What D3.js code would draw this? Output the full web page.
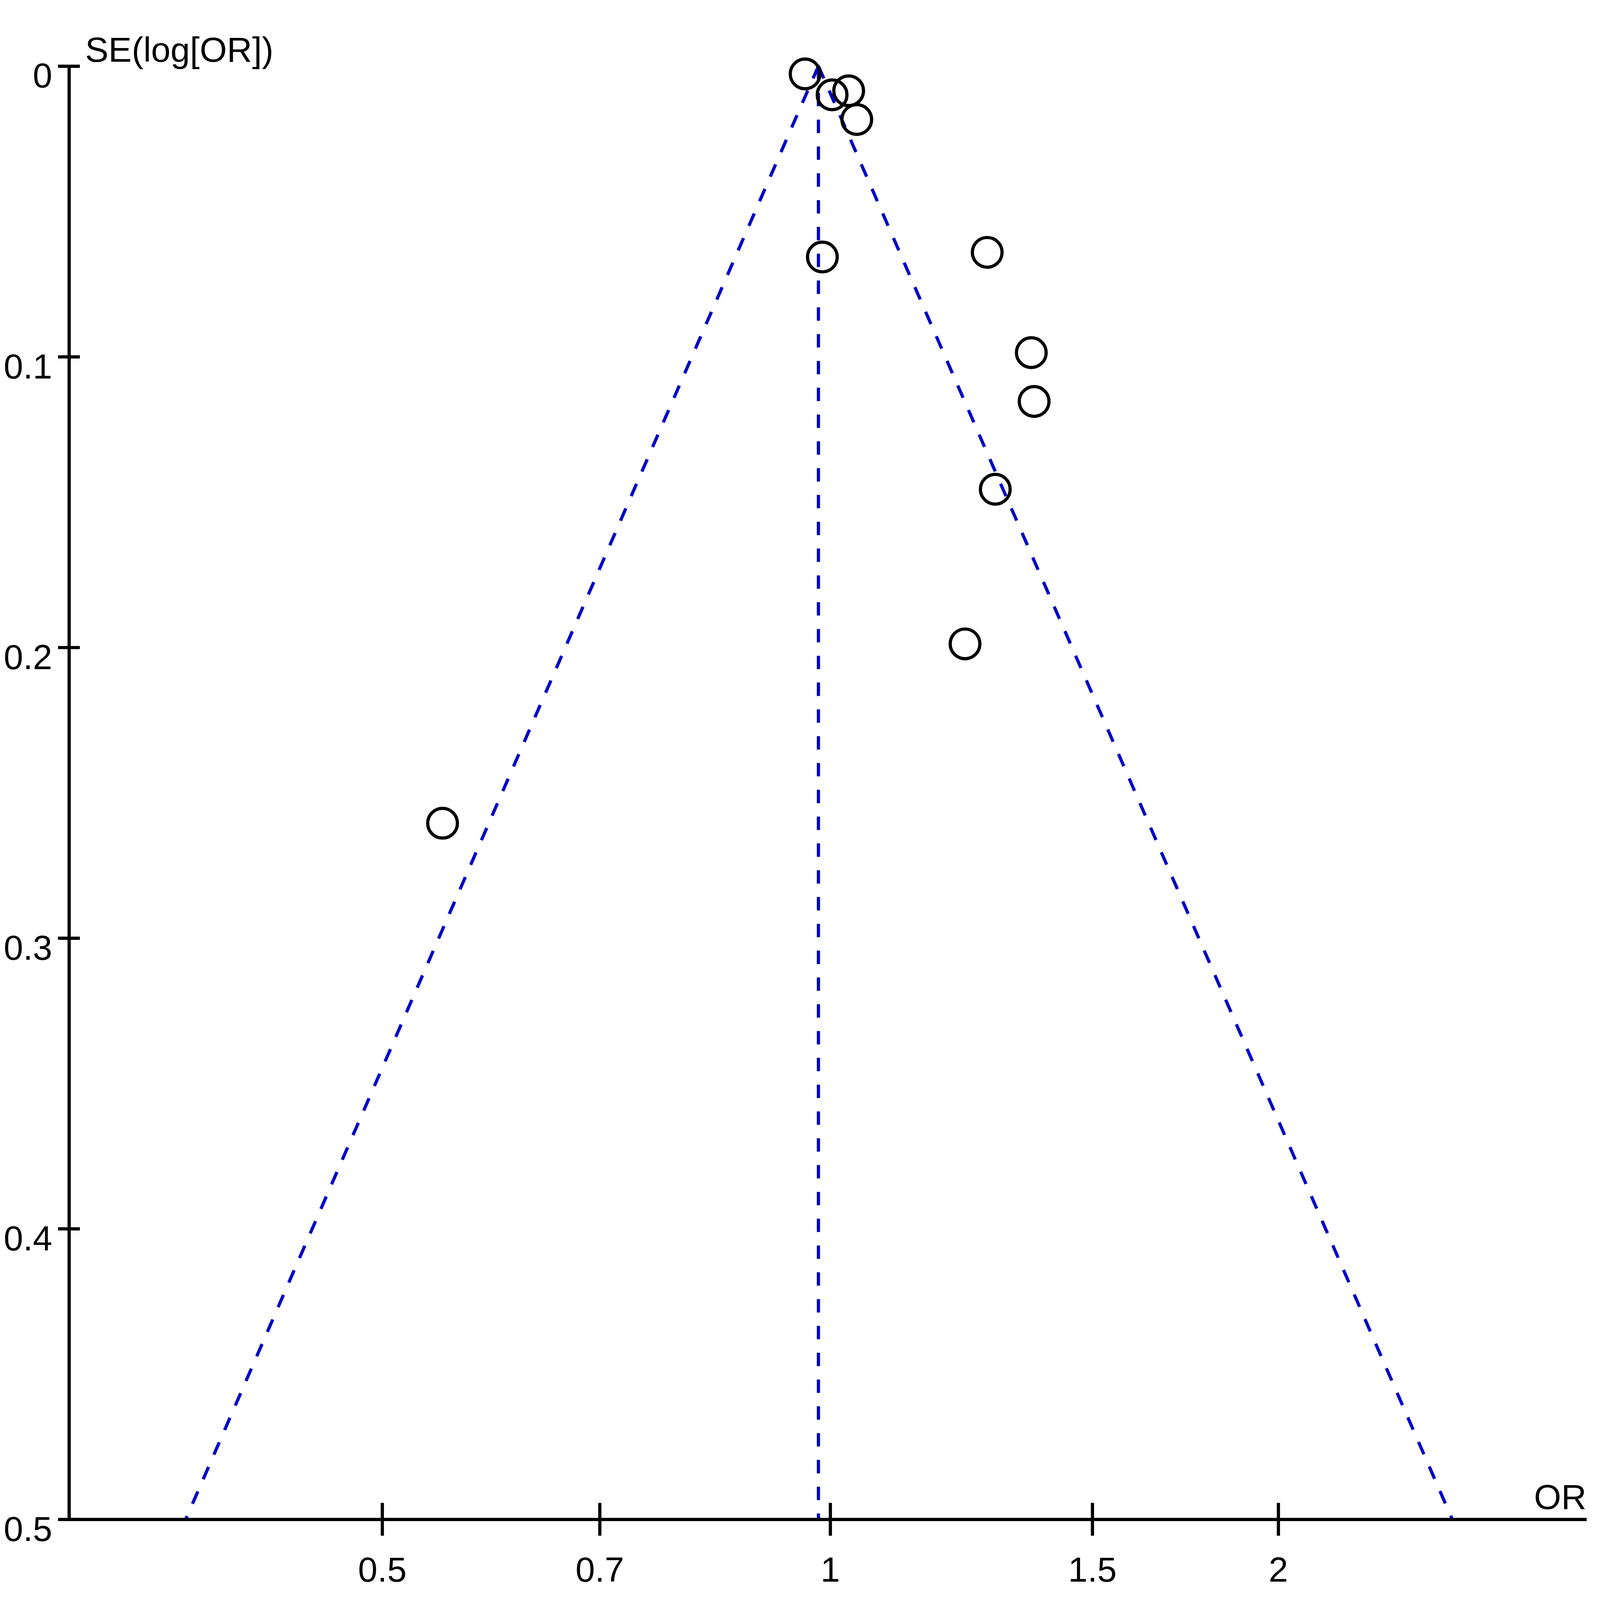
<!DOCTYPE html>
<html>
<head>
<meta charset="utf-8">
<script src="https://cdn.jsdelivr.net/npm/d3@7"></script>
<style>
  html, body { margin: 0; padding: 0; background: #fff; width: 100%; height: 100%; overflow: hidden; }
  #chart { width: 100vw; height: 100vh; }
  svg { display: block; }
</style>
</head>
<body>
<div id="chart"></div>
<script>
// study estimates
const studyOR = [0.962, 1.003, 1.029, 1.042, 0.988, 1.275, 1.365, 1.371, 1.291, 1.232, 0.549];
const studySE = [0.0027, 0.0099, 0.0085, 0.0184, 0.0657, 0.0641, 0.0986, 0.1154, 0.1456, 0.1988, 0.2605];

// pooled estimate and 95% pseudo-confidence limits
const pooledOR = 0.982;
const funnelSE = [0, 0.5];
const funnelLower = [0.982, 0.369];
const funnelUpper = [0.982, 2.618];

const xTicks = [0.5, 0.7, 1, 1.5, 2];
const yTicks = [0, 0.1, 0.2, 0.3, 0.4, 0.5];
const xDomain = [0.308, 3.222];
const yDomain = [0, 0.5];

// layout is worked out on the 6730x4481 original and scaled to the window
const refW = 6730, refH = 4481;
const width = window.innerWidth || refW;
const height = window.innerHeight || refH;
const sx = width / refW, sy = height / refH;
const sm = Math.sqrt(sx * sy);
const fs = 140 * Math.min(sy, sx * 1.05);   // font size, kept small enough for the left margin
const k = fs / 140;

const plotLeft = 290 * sx, plotRight = 6673 * sx, plotTop = 185 * sy, plotBottom = 4255 * sy;
const stroke = 11 * sm;
const fontFamily = '"Liberation Sans", Arial, Helvetica, sans-serif';
const blue = '#0000c8';

const svg = d3.select('#chart').append('svg')
    .attr('width', width)
    .attr('height', height)
    .style('background', '#fff');

const x = d3.scaleLog().domain(xDomain).range([plotLeft, plotRight]);
const y = d3.scaleLinear().domain(yDomain).range([plotTop, plotBottom]);

// funnel + pooled line
const line = d3.line().x(d => x(d[0])).y(d => y(d[1]));
const dashed = [
    d3.zip(funnelLower, funnelSE),
    d3.zip(funnelUpper, funnelSE),
    d3.zip([pooledOR, pooledOR], funnelSE)
];
svg.append('g')
    .selectAll('path')
    .data(dashed)
    .join('path')
    .attr('d', line)
    .attr('fill', 'none')
    .attr('stroke', blue)
    .attr('stroke-width', stroke)
    .attr('stroke-dasharray', `${46 * sm},${46 * sm}`);

// axes
const yAxis = svg.append('g')
    .attr('transform', `translate(${plotLeft},0)`)
    .call(d3.axisLeft(y).tickValues(yTicks).tickSize(0).tickSizeOuter(0).tickFormat(d => String(d)));

const xAxis = svg.append('g')
    .attr('transform', `translate(0,${plotBottom})`)
    .call(d3.axisBottom(x).tickValues(xTicks).tickSize(0).tickSizeOuter(0).tickFormat(d => String(d)));

[yAxis, xAxis].forEach(g => {
    g.select('.domain').attr('stroke', '#000').attr('stroke-width', stroke);
    g.selectAll('.tick line').attr('stroke', '#000').attr('stroke-width', stroke);
    g.selectAll('.tick text')
        .attr('fill', '#000')
        .attr('font-family', fontFamily)
        .attr('font-size', fs)
        .attr('dy', null);
    g.attr('font-family', null).attr('font-size', null);
});

const yTickHalf = 46 * sx, xTickHalf = 46 * sy;
yAxis.selectAll('.tick line').attr('x1', -yTickHalf).attr('x2', yTickHalf);
yAxis.selectAll('.tick text')
    .attr('x', -(yTickHalf + 23 * k))
    .attr('y', 25 * sy + 0.358 * fs)
    .attr('text-anchor', 'end');

// x labels centred where the original has them, below the ticks
xAxis.selectAll('.tick line').attr('y1', -xTickHalf).attr('y2', xTickHalf);
xAxis.selectAll('.tick text')
    .attr('y', 4395 * sy - plotBottom + 0.358 * fs)
    .attr('text-anchor', 'middle');

// axis titles
svg.append('text')
    .attr('x', plotLeft + 68 * sx)
    .attr('y', plotTop - 18 * k)
    .attr('font-family', fontFamily)
    .attr('font-size', fs)
    .attr('fill', '#000')
    .text('SE(log[OR])');

svg.append('text')
    .attr('x', plotRight)
    .attr('y', plotBottom - 41 * k)
    .attr('text-anchor', 'end')
    .attr('font-family', fontFamily)
    .attr('font-size', fs)
    .attr('fill', '#000')
    .text('OR');

// studies
svg.append('g')
    .selectAll('circle')
    .data(d3.zip(studyOR, studySE))
    .join('circle')
    .attr('cx', d => x(d[0]))
    .attr('cy', d => y(d[1]))
    .attr('r', 51 * sm)
    .attr('fill', 'none')
    .attr('stroke', '#000')
    .attr('stroke-width', stroke);
</script>
</body>
</html>
